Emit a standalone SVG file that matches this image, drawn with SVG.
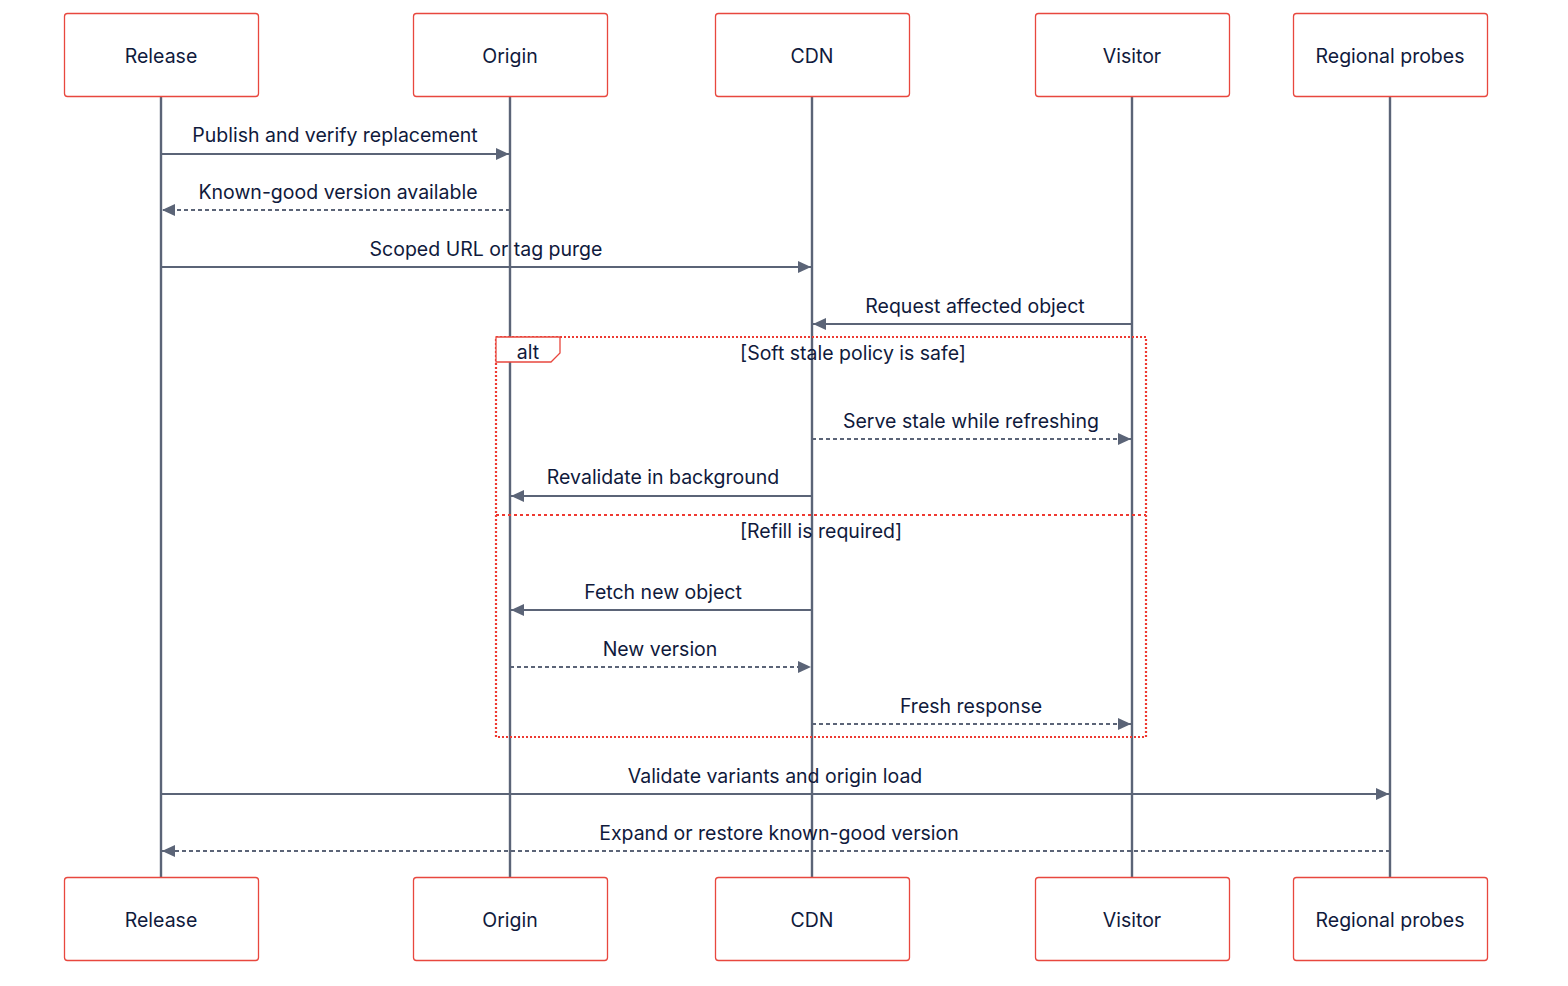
<svg xmlns="http://www.w3.org/2000/svg" width="1568" height="986" viewBox="0 0 1568 986">
<style>
.box{fill:#ffffff;stroke:#e8473e;stroke-width:1.3}
.lbl{font-family:Inter,"Liberation Sans",sans-serif;font-size:19.5px;fill:#101a3c;text-anchor:middle}
.life{stroke:#5b6477;stroke-width:2.4}
.msg{stroke:#5b6477;stroke-width:1.8;fill:none}
.dash{stroke-dasharray:4,3}
.frame{fill:none;stroke:#ee3a32;stroke-width:2.2;stroke-dasharray:2,2}
</style>
<defs>
<marker id="ah" viewBox="0 0 13 12" refX="13" refY="6" markerWidth="13" markerHeight="12" markerUnits="userSpaceOnUse" orient="auto">
<path d="M0,0 L13,6 L0,12 z" fill="#5b6477"/>
</marker>
</defs>
<rect width="1568" height="986" fill="#ffffff"/>
<g id="lifelines">
<line class="life" x1="161" y1="96" x2="161" y2="877"/>
<line class="life" x1="510" y1="96" x2="510" y2="877"/>
<line class="life" x1="812" y1="96" x2="812" y2="877"/>
<line class="life" x1="1132" y1="96" x2="1132" y2="877"/>
<line class="life" x1="1390" y1="96" x2="1390" y2="877"/>
</g>
<g id="alt-frame">
<rect class="frame" x="496" y="337" width="650" height="400"/>
<line class="frame" x1="496" y1="515" x2="1146" y2="515" style="stroke-dasharray:3,3"/>
<path d="M496,337 L560,337 L560,353 L551,362 L496,362 Z" fill="#ffffff" stroke="#e8473e" stroke-width="1.3"/>
<text class="lbl" x="528" y="359">alt</text>
<text class="lbl" x="853" y="360">[Soft stale policy is safe]</text>
<text class="lbl" x="821" y="538">[Refill is required]</text>
</g>
<g id="connectors">
<line class="msg" x1="161" y1="154" x2="509" y2="154" marker-end="url(#ah)"/>
<text class="lbl" x="335" y="142">Publish and verify replacement</text>
<line class="msg dash" x1="510" y1="210" x2="162" y2="210" marker-end="url(#ah)"/>
<text class="lbl" x="338" y="199">Known-good version available</text>
<line class="msg" x1="161" y1="267" x2="811" y2="267" marker-end="url(#ah)"/>
<text class="lbl" x="486" y="256">Scoped URL or tag purge</text>
<line class="msg" x1="1132" y1="324" x2="813" y2="324" marker-end="url(#ah)"/>
<text class="lbl" x="975" y="313">Request affected object</text>
<line class="msg dash" x1="812" y1="439" x2="1131" y2="439" marker-end="url(#ah)"/>
<text class="lbl" x="971" y="428">Serve stale while refreshing</text>
<line class="msg" x1="812" y1="496" x2="511" y2="496" marker-end="url(#ah)"/>
<text class="lbl" x="663" y="484">Revalidate in background</text>
<line class="msg" x1="812" y1="610" x2="511" y2="610" marker-end="url(#ah)"/>
<text class="lbl" x="663" y="599">Fetch new object</text>
<line class="msg dash" x1="510" y1="667" x2="811" y2="667" marker-end="url(#ah)"/>
<text class="lbl" x="660" y="656">New version</text>
<line class="msg dash" x1="812" y1="724" x2="1131" y2="724" marker-end="url(#ah)"/>
<text class="lbl" x="971" y="713">Fresh response</text>
<line class="msg" x1="161" y1="794" x2="1389" y2="794" marker-end="url(#ah)"/>
<text class="lbl" x="775" y="783">Validate variants and origin load</text>
<line class="msg dash" x1="1390" y1="851" x2="162" y2="851" marker-end="url(#ah)"/>
<text class="lbl" x="779" y="840">Expand or restore known-good version</text>
</g>
<g id="release-top"><rect class="box" x="64.5" y="13.5" width="194" height="83" rx="3"/><text class="lbl" x="161" y="63">Release</text></g>
<g id="origin-top"><rect class="box" x="413.5" y="13.5" width="194" height="83" rx="3"/><text class="lbl" x="510" y="63">Origin</text></g>
<g id="cdn-top"><rect class="box" x="715.5" y="13.5" width="194" height="83" rx="3"/><text class="lbl" x="812" y="63">CDN</text></g>
<g id="visitor-top"><rect class="box" x="1035.5" y="13.5" width="194" height="83" rx="3"/><text class="lbl" x="1132" y="63">Visitor</text></g>
<g id="probes-top"><rect class="box" x="1293.5" y="13.5" width="194" height="83" rx="3"/><text class="lbl" x="1390" y="63">Regional probes</text></g>
<g id="release-bottom"><rect class="box" x="64.5" y="877.5" width="194" height="83" rx="3"/><text class="lbl" x="161" y="927">Release</text></g>
<g id="origin-bottom"><rect class="box" x="413.5" y="877.5" width="194" height="83" rx="3"/><text class="lbl" x="510" y="927">Origin</text></g>
<g id="cdn-bottom"><rect class="box" x="715.5" y="877.5" width="194" height="83" rx="3"/><text class="lbl" x="812" y="927">CDN</text></g>
<g id="visitor-bottom"><rect class="box" x="1035.5" y="877.5" width="194" height="83" rx="3"/><text class="lbl" x="1132" y="927">Visitor</text></g>
<g id="probes-bottom"><rect class="box" x="1293.5" y="877.5" width="194" height="83" rx="3"/><text class="lbl" x="1390" y="927">Regional probes</text></g>
</svg>
